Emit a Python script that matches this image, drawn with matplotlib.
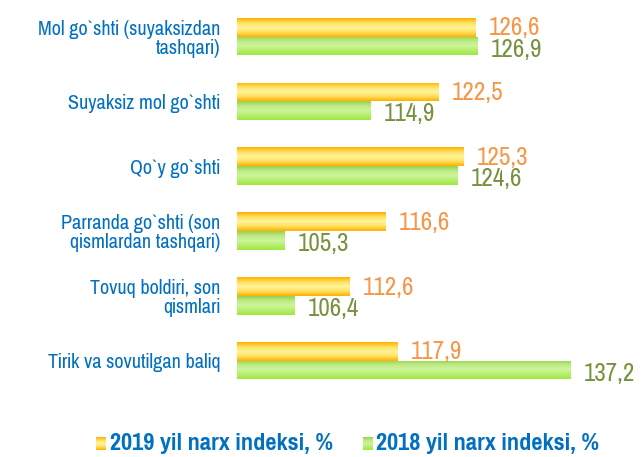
import numpy as np
import matplotlib.pyplot as plt
from matplotlib.colors import LinearSegmentedColormap
from matplotlib.patches import Rectangle

# category labels and index values (%)
categories = [
    "Mol go`shti (suyaksizdan\ntashqari)",
    "Suyaksiz mol go`shti",
    "Qo`y go`shti",
    "Parranda go`shti (son\nqismlardan tashqari)",
    "Tovuq boldiri, son\nqismlari",
    "Tirik va sovutilgan baliq",
]
idx_2019 = [126.6, 122.5, 125.3, 116.6, 112.6, 117.9]
idx_2018 = [126.9, 114.9, 124.6, 105.3, 106.4, 137.2]
labels_series = ["2019 yil narx indeksi, %", "2018 yil narx indeksi, %"]

plt.rcParams['font.family'] = ['Pragati Narrow', 'Roboto Condensed', 'DejaVu Sans']

blue = '#0070C0'
orange_txt = '#F79646'
green_txt = '#76923C'

cmap_y = LinearSegmentedColormap.from_list('y', ['#FFB000', '#FFE060', '#FFF59A', '#FFE060', '#FFB000'])
cmap_g = LinearSegmentedColormap.from_list('g', ['#98D050', '#BDEB85', '#CCF59A', '#B8EE70', '#9EE83A'])
grad = np.linspace(0, 1, 64).reshape(-1, 1)

fig = plt.figure(figsize=(6.42, 4.57), dpi=100)
ax = fig.add_axes([0.369, 0.140, 0.558, 0.851])
xmin, xmax = 100, 140
ax.set_xlim(xmin, xmax)
ax.set_ylim(5.5, -0.5)

h = 0.29
y = np.arange(len(categories))


def grad_bar(x1, yc, cmap):
    y0, y1 = yc - h / 2, yc + h / 2
    im = ax.imshow(grad, cmap=cmap, aspect='auto', extent=(xmin, x1, y1, y0),
                   origin='upper', interpolation='bilinear', zorder=2)
    r = Rectangle((xmin, y0), x1 - xmin, h, transform=ax.transData)
    im.set_clip_path(r)


for i in range(len(categories)):
    grad_bar(idx_2019[i], y[i] - h / 2, cmap_y)
    grad_bar(idx_2018[i], y[i] + h / 2, cmap_g)
    ax.text(idx_2019[i] + 1.5, y[i] - h / 2 + 0.01, f"{idx_2019[i]:.1f}".replace('.', ','),
            color=orange_txt, fontsize=19.5, va='center', ha='left')
    ax.text(idx_2018[i] + 1.5, y[i] + h / 2 + 0.05, f"{idx_2018[i]:.1f}".replace('.', ','),
            color=green_txt, fontsize=19.5, va='center', ha='left')

ax.set_yticks(y)
ax.set_yticklabels(categories, color=blue, fontsize=15.8, linespacing=1.0)
ax.tick_params(axis='y', length=0, pad=12)
ax.set_xticks([])
for s in ax.spines.values():
    s.set_visible(False)
ax.set_xlim(xmin, xmax)
ax.set_ylim(5.5, -0.5)

# legend
for (sx, tx, cmap, lab) in [(96, 110, cmap_y, labels_series[0]), (363, 376, cmap_g, labels_series[1])]:
    lax = fig.add_axes([sx / 642, 1 - 450 / 457, 10 / 642, 13 / 457])
    lax.imshow(grad, cmap=cmap, aspect='auto', interpolation='bilinear')
    lax.axis('off')
    fig.text(tx / 642, 1 - 443 / 457, lab, color=blue, fontsize=19, fontweight='bold', va='center', ha='left')

fig.savefig('out.png', dpi=100)
